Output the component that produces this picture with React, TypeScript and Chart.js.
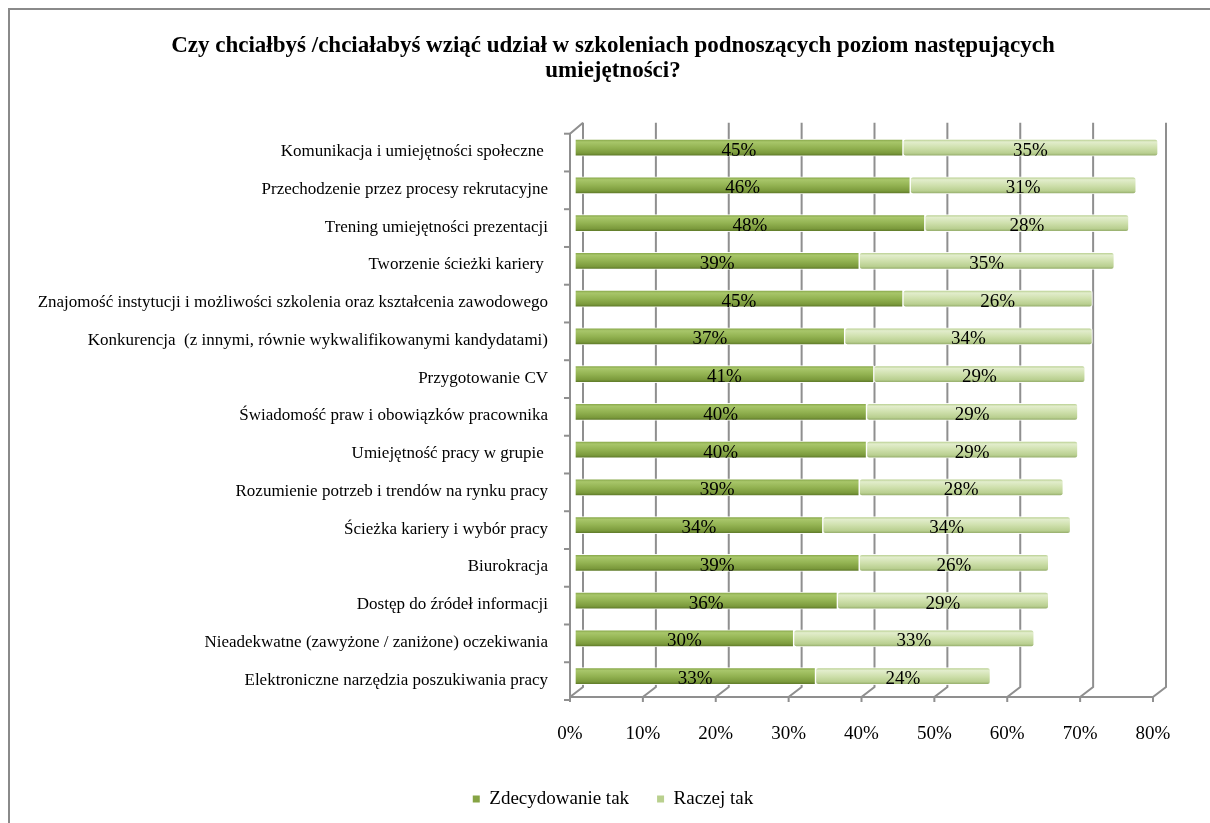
import React, { useEffect, useRef } from "react";
import { Chart, registerables } from "chart.js";

Chart.register(...registerables);

const categories = [
  "Komunikacja i umiejętności społeczne ",
  "Przechodzenie przez procesy rekrutacyjne",
  "Trening umiejętności prezentacji",
  "Tworzenie ścieżki kariery ",
  "Znajomość instytucji i możliwości szkolenia oraz kształcenia zawodowego",
  "Konkurencja  (z innymi, równie wykwalifikowanymi kandydatami)",
  "Przygotowanie CV",
  "Świadomość praw i obowiązków pracownika",
  "Umiejętność pracy w grupie ",
  "Rozumienie potrzeb i trendów na rynku pracy",
  "Ścieżka kariery i wybór pracy",
  "Biurokracja",
  "Dostęp do źródeł informacji",
  "Nieadekwatne (zawyżone / zaniżone) oczekiwania",
  "Elektroniczne narzędzia poszukiwania pracy",
];

const zdecydowanieTak = [45, 46, 48, 39, 45, 37, 41, 40, 40, 39, 34, 39, 36, 30, 33];
const raczejTak = [35, 31, 28, 35, 26, 34, 29, 29, 29, 28, 34, 26, 29, 33, 24];

const titleLines = [
  "Czy chciałbyś /chciałabyś wziąć udział w szkoleniach podnoszących poziom następujących",
  "umiejętności?",
];

const xMin = 0;
const xMax = 80;
const xStep = 10;

const SERIF = "'Liberation Serif', 'Times New Roman', serif";

function makeGradient(ctx: any, stops: [number, string][], fallback: string) {
  const chart = ctx.chart;
  const yScale = chart.scales && chart.scales.y;
  if (!yScale || !chart.chartArea) return fallback;
  const yc = yScale.getPixelForValue(ctx.dataIndex);
  if (!isFinite(yc)) return fallback;
  const g = chart.ctx.createLinearGradient(0, yc - 8, 0, yc + 8);
  stops.forEach(([o, c]) => g.addColorStop(o, c));
  return g;
}

const darkStops: [number, string][] = [
  [0, "#86a648"],
  [0.15, "#a8c66a"],
  [0.5, "#93b352"],
  [0.85, "#7b9a3c"],
  [1, "#5d7828"],
];
const lightStops: [number, string][] = [
  [0, "#b7ce8e"],
  [0.15, "#e2edcc"],
  [0.5, "#cfe0ad"],
  [0.85, "#b9cf90"],
  [1, "#94ac6a"],
];

const frame3d = {
  id: "frame3d",
  beforeDatasetsDraw(chart: any) {
    const { ctx, chartArea, scales } = chart;
    const x = scales.x;
    const top = chartArea.top;
    const bottom = chartArea.bottom;
    const backTop = top - 6;
    const backBottom = bottom - 8;
    const floorY = bottom + 2;
    ctx.save();
    ctx.strokeStyle = "#8f8f8f";
    ctx.lineWidth = 2;
    for (let v = xMin; v <= xMax; v += xStep) {
      const px = x.getPixelForValue(v);
      const bx = px + 8;
      const fx = px - 5;
      ctx.beginPath();
      ctx.moveTo(bx, backTop);
      ctx.lineTo(bx, backBottom);
      ctx.lineTo(fx, floorY);
      ctx.lineTo(fx, floorY + 5);
      ctx.stroke();
    }
    const f0 = x.getPixelForValue(xMin) - 5;
    const f1 = x.getPixelForValue(xMax) - 5;
    const b0 = x.getPixelForValue(xMin) + 8;
    ctx.beginPath();
    ctx.moveTo(f0, floorY);
    ctx.lineTo(f1, floorY);
    ctx.stroke();
    ctx.beginPath();
    ctx.moveTo(b0, backTop);
    ctx.lineTo(f0, top + 5);
    ctx.lineTo(f0, floorY);
    ctx.stroke();
    const n = categories.length;
    const band = (bottom - top) / n;
    for (let i = 0; i <= n; i++) {
      const yb = top + i * band + 5;
      ctx.beginPath();
      ctx.moveTo(f0 - 6, yb);
      ctx.lineTo(f0, yb);
      ctx.stroke();
    }
    ctx.restore();
  },
};

const dataLabels = {
  id: "dataLabels",
  afterDatasetsDraw(chart: any) {
    const { ctx } = chart;
    ctx.save();
    ctx.font = `19px ${SERIF}`;
    ctx.fillStyle = "#000";
    ctx.textAlign = "center";
    ctx.textBaseline = "middle";
    chart.data.datasets.forEach((ds: any, di: number) => {
      const meta = chart.getDatasetMeta(di);
      meta.data.forEach((el: any, i: number) => {
        const v = ds.data[i];
        const cx = (el.x + el.base) / 2;
        ctx.fillText(`${v}%`, cx, el.y + 3);
      });
    });
    ctx.restore();
  },
};

export default function App() {
  const ref = useRef<HTMLCanvasElement | null>(null);
  useEffect(() => {
    if (!ref.current) return;
    const chart = new Chart(ref.current, {
      type: "bar",
      data: {
        labels: categories,
        datasets: [
          {
            label: "Zdecydowanie tak",
            data: zdecydowanieTak,
            backgroundColor: (c: any) => makeGradient(c, darkStops, "#8aaa4a"),
            borderColor: "rgba(255,255,255,0.9)",
            borderWidth: 1,
            borderSkipped: false,
            borderRadius: 3,
            barThickness: 17,
          },
          {
            label: "Raczej tak",
            data: raczejTak,
            backgroundColor: (c: any) => makeGradient(c, lightStops, "#c3d69b"),
            borderColor: "rgba(255,255,255,0.9)",
            borderWidth: 1,
            borderSkipped: false,
            borderRadius: 3,
            barThickness: 17,
          },
        ],
      },
      options: {
        indexAxis: "y",
        responsive: false,
        animation: false,
        devicePixelRatio: 1,
        layout: { padding: { left: 68, right: 52, top: 0, bottom: 4.5 } },
        scales: {
          x: {
            stacked: true,
            min: xMin,
            max: xMax,
            grid: { display: false, drawTicks: false },
            border: { display: false },
            ticks: {
              stepSize: xStep,
              padding: 27.5,
              labelOffset: -5,
              color: "#000",
              font: { family: SERIF, size: 19 },
              callback: (v: any) => `${v}%`,
            },
            afterFit: (s: any) => {
              s.height = 66.5;
            },
          },
          y: {
            stacked: true,
            grid: { display: false, drawTicks: false },
            border: { display: false },
            ticks: {
              padding: 27,
              labelOffset: 4,
              color: "#000",
              font: { family: SERIF, size: 17 },
            },
            afterFit: (s: any) => {
              s.width = 507;
              s._computeLabelArea = () => undefined;
            },
          },
        },
        plugins: {
          title: {
            display: true,
            text: titleLines,
            color: "#000",
            font: { family: SERIF, size: 23, weight: "bold", lineHeight: 25 / 23 },
            padding: { top: 33.5, bottom: 45.2 },
          },
          legend: {
            position: "bottom",
            labels: {
              boxWidth: 7,
              boxHeight: 7,
              padding: 28,
              color: "#000",
              font: { family: SERIF, size: 19 },
              generateLabels: (ch: any) =>
                ch.data.datasets.map((ds: any, i: number) => ({
                  text: ds.label,
                  fillStyle: i === 0 ? "#86a444" : "#b9d08e",
                  strokeStyle: i === 0 ? "#86a444" : "#b9d08e",
                  lineWidth: 0,
                  datasetIndex: i,
                  hidden: false,
                  fontColor: "#000",
                })),
            },
          },
          tooltip: { enabled: false },
        },
      },
      plugins: [frame3d, dataLabels],
    } as any);
    return () => chart.destroy();
  }, []);

  return (
    <>
      <div
        style={{
          position: "absolute",
          left: 8,
          top: 8,
          width: 1202,
          height: 815,
          borderTop: "2px solid #8a8a8a",
          borderLeft: "2px solid #8a8a8a",
          boxSizing: "border-box",
        }}
      />
      <div style={{ position: "absolute", left: 0, top: 0, width: 1210, height: 823 }}>
        <canvas ref={ref} width={1210} height={823} style={{ display: "block" }} />
      </div>
    </>
  );
}
